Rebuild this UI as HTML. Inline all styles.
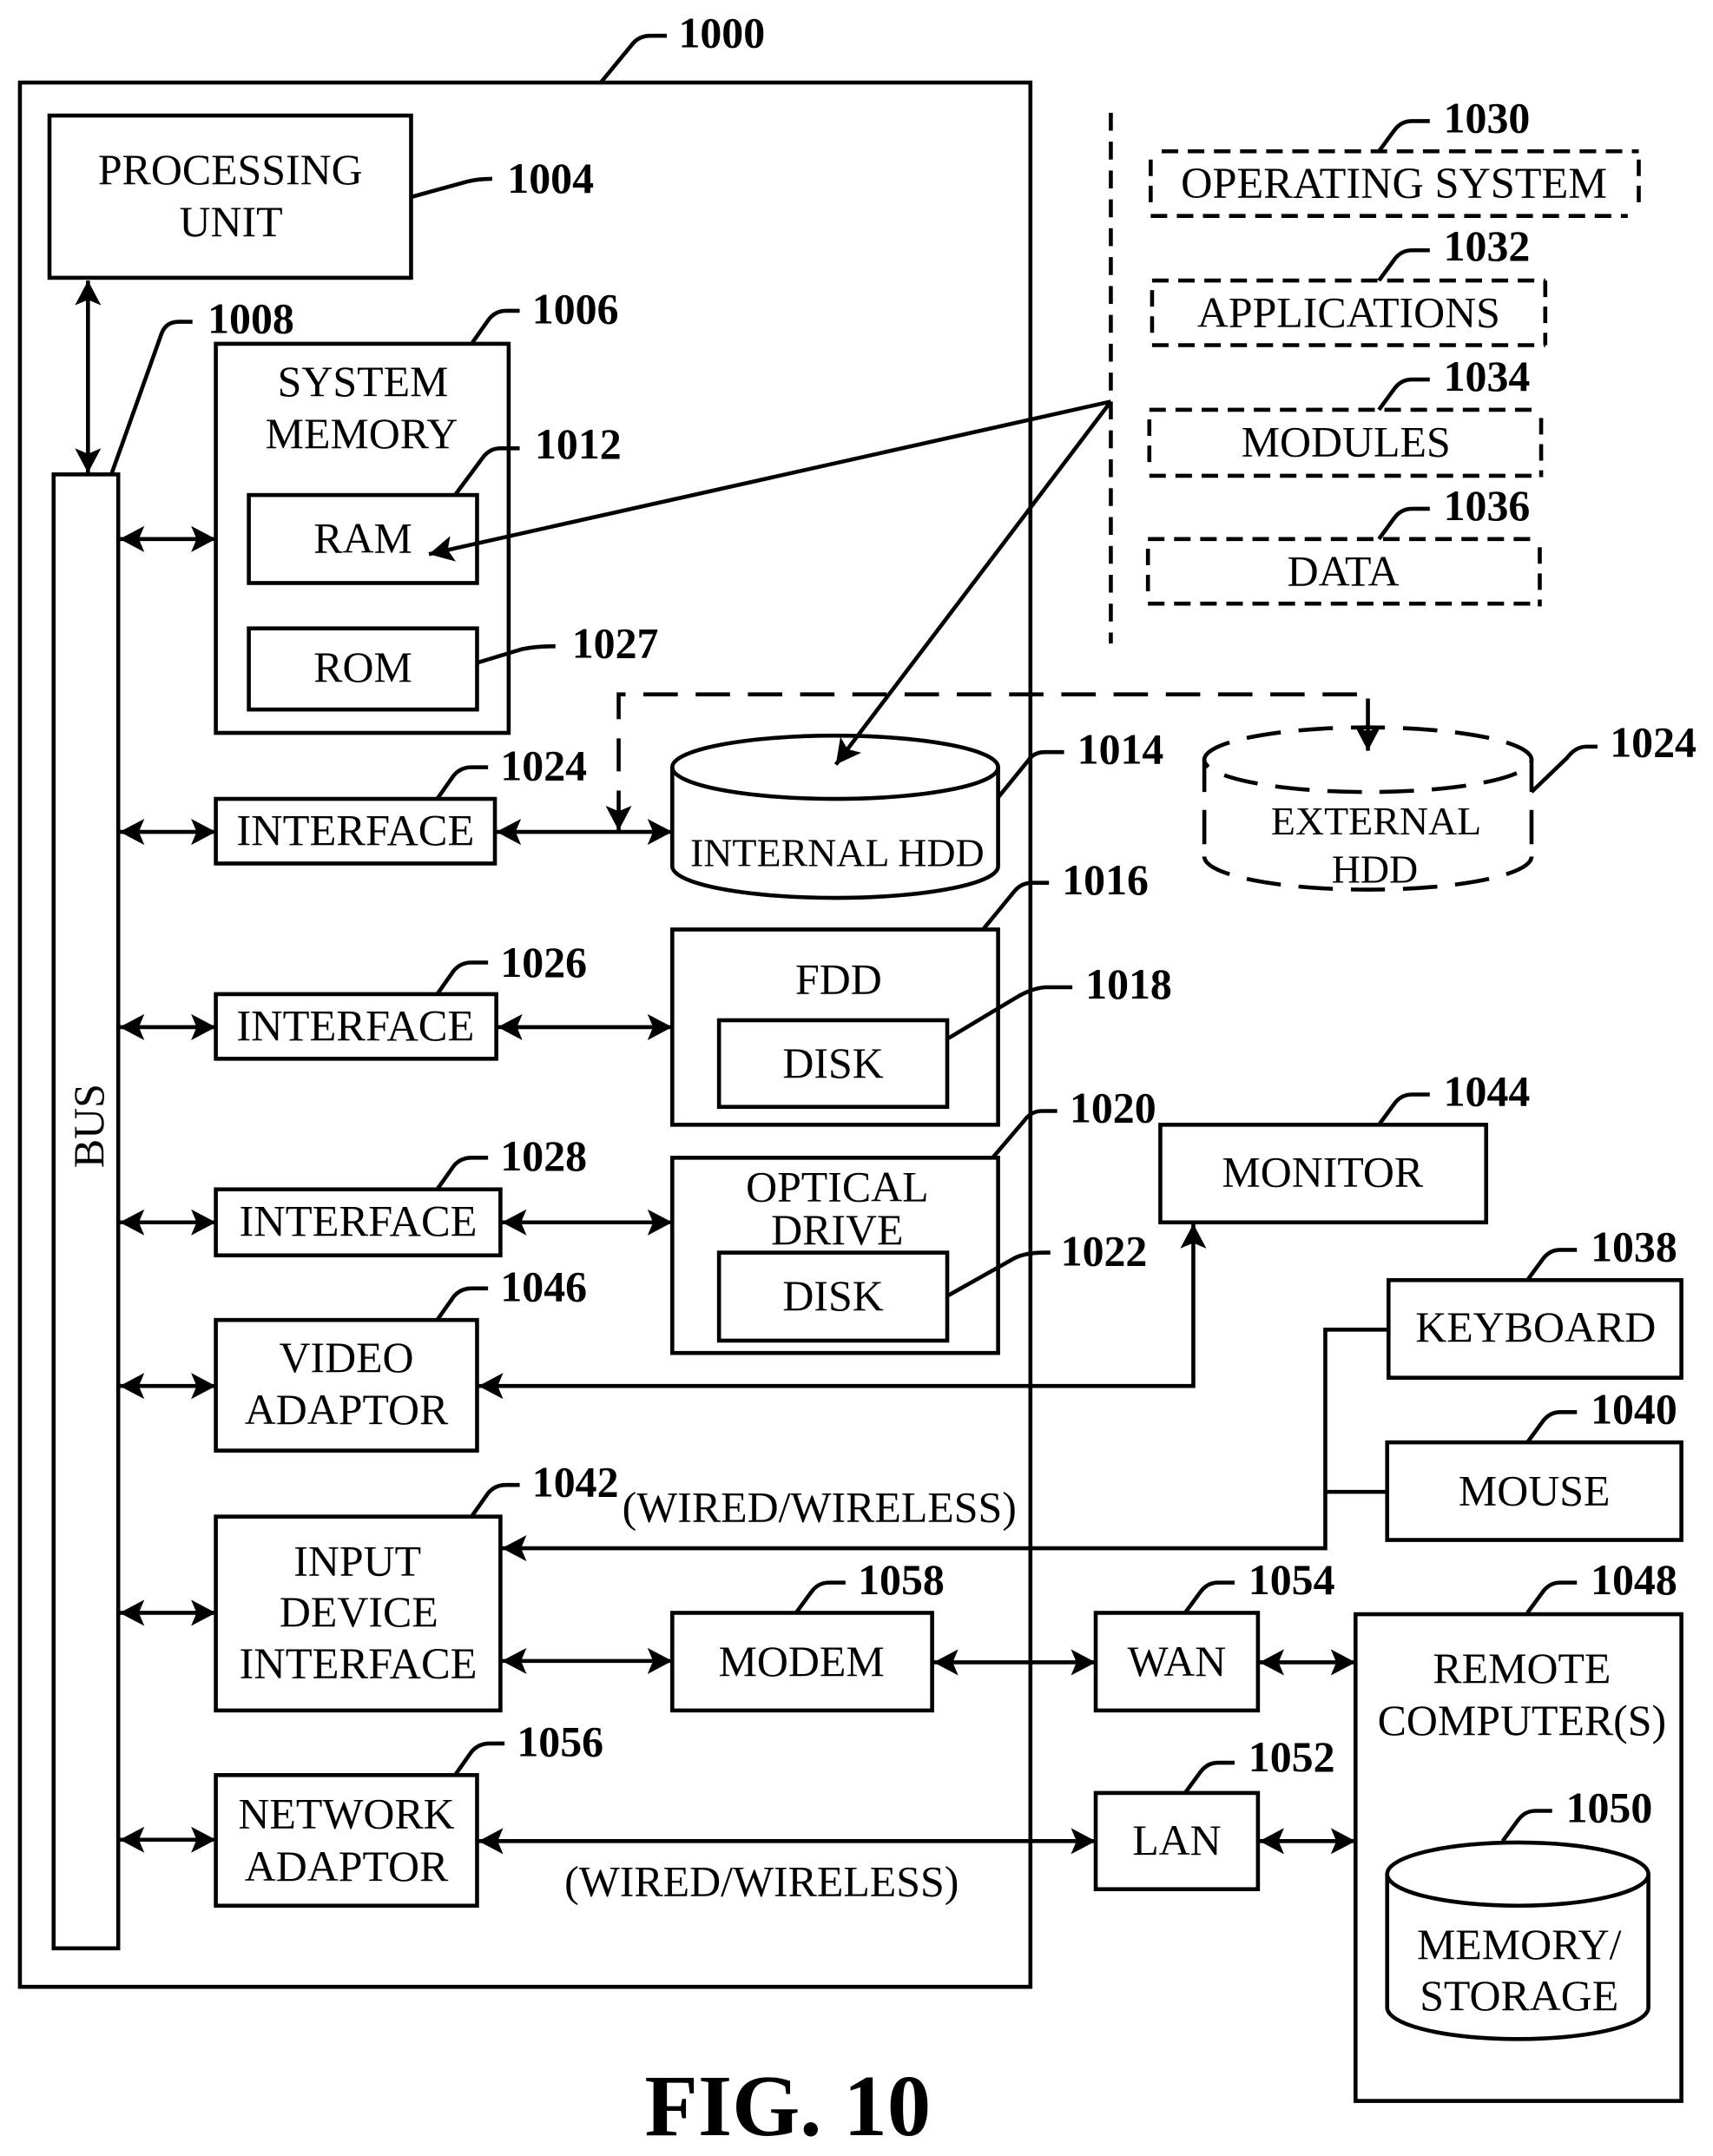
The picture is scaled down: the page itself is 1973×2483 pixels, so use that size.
<!DOCTYPE html>
<html><head><meta charset="utf-8"><style>
html,body{margin:0;padding:0;background:#fff}
svg{display:block}
text{font-family:"Liberation Serif",serif;fill:#000}
.t{font-size:31.5px;text-anchor:middle}
.i{font-size:31.9px}
.n{font-size:31.5px;font-weight:bold}
.b{fill:#fff;stroke:#000;stroke-width:2.9}
.l{fill:none;stroke:#000;stroke-width:2.9}
.d{fill:none;stroke:#000;stroke-width:2.9;stroke-dasharray:12 7}
.e{fill:none;stroke:#000;stroke-width:2.9;stroke-dasharray:25 13}
</style></head><body>
<svg width="1973" height="2483" viewBox="0 0 1246 1568" xmlns="http://www.w3.org/2000/svg">
<defs>
<marker id="a" markerUnits="userSpaceOnUse" markerWidth="20" markerHeight="20" refX="18" refY="9.500" orient="auto-start-reverse"><path d="M0 0L18 9.500L0 19L4 9.500Z" fill="#000"/></marker>
</defs>
<rect width="1246" height="1568" fill="#fff"/>
<rect class="b" x="14.500" y="60" width="735" height="1385"/>
<rect class="b" x="36" y="84" width="263" height="118"/>
<rect class="b" x="39" y="345" width="47" height="1072"/>
<rect class="b" x="157" y="250" width="213" height="283"/>
<rect class="b" x="181" y="360" width="166" height="64"/>
<rect class="b" x="181" y="457" width="166" height="59"/>
<rect class="b" x="157" y="581" width="203" height="47"/>
<rect class="b" x="157" y="723" width="204" height="47"/>
<rect class="b" x="157" y="865" width="207" height="48"/>
<rect class="b" x="157" y="960" width="190" height="95"/>
<rect class="b" x="157" y="1103" width="207" height="141"/>
<rect class="b" x="157" y="1291" width="190" height="95"/>
<path class="b" d="M489 558A118.500 23 0 0 1 726 558V630A118.500 23 0 0 1 489 630Z"/>
<path class="l" d="M489 558A118.500 23 0 0 0 726 558"/>
<rect class="b" x="489" y="676" width="237" height="142"/>
<rect class="b" x="523" y="742" width="166" height="63"/>
<rect class="b" x="489" y="842" width="237" height="142"/>
<rect class="b" x="523" y="911" width="166" height="64"/>
<rect class="b" x="489" y="1173" width="189" height="71"/>
<rect class="b" x="797" y="1173" width="118" height="71"/>
<rect class="b" x="797" y="1304" width="118" height="70"/>
<rect class="b" x="986" y="1174" width="237" height="354"/>
<path class="b" d="M1009 1363A95 23 0 0 1 1199 1363V1460A95 23 0 0 1 1009 1460Z"/>
<path class="l" d="M1009 1363A95 23 0 0 0 1199 1363"/>
<rect class="b" x="844" y="818" width="237" height="71"/>
<rect class="b" x="1010" y="931" width="213" height="71"/>
<rect class="b" x="1009" y="1049" width="214" height="71"/>

<path class="d" d="M845 110H1192M837 157H1184"/>
<path class="d" d="M837 116V150M1192 116V150"/>
<path class="d" d="M838 204H1124M838 251H1124"/>
<path class="d" d="M838 211V245M1124 204V251"/>
<path class="d" d="M836 298H1121M836 346H1121"/>
<path class="d" d="M836 305V339M1121 304V347"/>
<path class="d" d="M835 392H1120M835 439H1120"/>
<path class="d" d="M835 399V433M1120 398V441"/>
<path class="d" style="stroke-dasharray:13 8" d="M808 82V468"/>

<path class="e" style="stroke-dashoffset:12.500" d="M995 529A119 23.500 0 0 0 876 552.500M995 529A119 23.500 0 0 1 1114 552.500"/>
<path class="e" style="stroke-dashoffset:31.500" d="M997 576A119 23.500 0 0 1 876 552.500M997 576A119 23.500 0 0 0 1114 552.500"/>
<path class="l" d="M876 552V576M876 589V614M876 623V624M1114 552V576M1114 589V614M1114 623V624"/>
<path class="e" style="stroke-dashoffset:12.500" d="M995 647A119 24 0 0 1 876 623M995 647A119 24 0 0 0 1114 623"/>

<path class="e" d="M468 505H990"/>
<path class="l" d="M455 505H450V523M450 537V561"/>
<path class="l" d="M450 575V604" marker-end="url(#a)"/>
<path class="l" d="M995 508V546" marker-end="url(#a)"/>

<path class="l" d="M64 204V344" marker-start="url(#a)" marker-end="url(#a)"/>
<path class="l" d="M87 392H157" marker-start="url(#a)" marker-end="url(#a)"/>
<path class="l" d="M87 605H157" marker-start="url(#a)" marker-end="url(#a)"/>
<path class="l" d="M87 747H157" marker-start="url(#a)" marker-end="url(#a)"/>
<path class="l" d="M87 889H157" marker-start="url(#a)" marker-end="url(#a)"/>
<path class="l" d="M87 1008H157" marker-start="url(#a)" marker-end="url(#a)"/>
<path class="l" d="M87 1173H157" marker-start="url(#a)" marker-end="url(#a)"/>
<path class="l" d="M87 1338H157" marker-start="url(#a)" marker-end="url(#a)"/>
<path class="l" d="M361 605H489" marker-start="url(#a)" marker-end="url(#a)"/>
<path class="l" d="M362 747H489" marker-start="url(#a)" marker-end="url(#a)"/>
<path class="l" d="M365 889H489" marker-start="url(#a)" marker-end="url(#a)"/>
<path class="l" d="M348 1008H868V890" marker-start="url(#a)" marker-end="url(#a)"/>
<path class="l" d="M1010 967H964V1126H365" marker-end="url(#a)"/>
<path class="l" d="M964 1085H1009"/>
<path class="l" d="M365 1208H489" marker-start="url(#a)" marker-end="url(#a)"/>
<path class="l" d="M679 1209H797" marker-start="url(#a)" marker-end="url(#a)"/>
<path class="l" d="M916 1209H986" marker-start="url(#a)" marker-end="url(#a)"/>
<path class="l" d="M916 1339H986" marker-start="url(#a)" marker-end="url(#a)"/>
<path class="l" d="M348 1339H797" marker-start="url(#a)" marker-end="url(#a)"/>
<path class="l" d="M808 292L312 403" marker-end="url(#a)"/>
<path class="l" d="M808 292L608 556" marker-end="url(#a)"/>
<path class="l" d="M437 60L460 32Q465 26 473 26H485"/>
<path class="l" d="M300 143L340 132Q348 130 358 130"/>
<path class="l" d="M81 345L117 244Q120 234 130 234H140"/>
<path class="l" d="M343 250L355 233Q360 226 368 226H378"/>
<path class="l" d="M331 360L351 333Q356 326 364 326H378"/>
<path class="l" d="M347 482L380 472Q390 470 404 470"/>
<path class="l" d="M318 581L330 564Q335 558 343 558H355"/>
<path class="l" d="M318 723L330 706Q335 700 343 700H355"/>
<path class="l" d="M318 865L330 848Q335 842 343 842H355"/>
<path class="l" d="M318 960L330 943Q335 937 343 937H355"/>
<path class="l" d="M343 1103L355 1086Q360 1080 368 1080H378"/>
<path class="l" d="M331 1291L343 1274Q348 1268 356 1268H367"/>
<path class="l" d="M726 580L748 553Q752 547 760 547H774"/>
<path class="l" d="M715 676L738 648Q743 642 751 642H763"/>
<path class="l" d="M690 755L740 725Q750 719 760 718H780"/>
<path class="l" d="M722 842L745 815Q750 808 758 808H769"/>
<path class="l" d="M690 942L738 915Q746 911 760 911H764"/>
<path class="l" d="M1114 576L1140 551Q1146 543 1154 543H1162"/>
<path class="l" d="M1003 110L1014 95Q1019 88 1027 88H1040"/>
<path class="l" d="M1003 204L1014 189Q1019 182 1027 182H1040"/>
<path class="l" d="M1003 298L1014 283Q1019 276 1027 276H1040"/>
<path class="l" d="M1003 392L1014 377Q1019 370 1027 370H1040"/>
<path class="l" d="M1003 818L1014 803Q1019 796 1027 796H1040"/>
<path class="l" d="M1111 931L1122 916Q1127 909 1135 909H1147"/>
<path class="l" d="M1111 1049L1122 1034Q1127 1027 1135 1027H1147"/>
<path class="l" d="M1111 1173L1122 1158Q1127 1151 1135 1151H1147"/>
<path class="l" d="M1093 1339L1104 1324Q1109 1317 1117 1317H1129"/>
<path class="l" d="M862 1173L873 1158Q878 1151 886 1151H898"/>
<path class="l" d="M862 1304L873 1289Q878 1282 886 1282H898"/>
<path class="l" d="M579 1173L590 1158Q595 1151 603 1151H615"/>

<g transform="translate(0 -0.2)">
<text class="t" x="167.500" y="134">PROCESSING</text>
<text class="t" x="168" y="172">UNIT</text>
<text class="t" x="264" y="288">SYSTEM</text>
<text class="t" x="263" y="326">MEMORY</text>
<text class="t" x="264" y="402">RAM</text>
<text class="t" x="264" y="496">ROM</text>
<text class="t" transform="translate(75 819) rotate(-90)">BUS</text>
<text class="t i" x="258.500" y="615">INTERFACE</text>
<text class="t i" x="258.500" y="757">INTERFACE</text>
<text class="t i" x="260.500" y="899">INTERFACE</text>
<text class="t" x="252" y="998">VIDEO</text>
<text class="t" x="252" y="1036">ADAPTOR</text>
<text class="t" x="260" y="1146">INPUT</text>
<text class="t" x="261" y="1183">DEVICE</text>
<text class="t i" x="260.500" y="1221">INTERFACE</text>
<text class="t" x="252" y="1330">NETWORK</text>
<text class="t" x="252" y="1368">ADAPTOR</text>
<text class="t" x="609" y="630" style="font-size:29px">INTERNAL HDD</text>
<text class="t" x="610" y="723">FDD</text>
<text class="t" x="606" y="784">DISK</text>
<text class="t" x="609" y="874">OPTICAL</text>
<text class="t" x="609" y="905">DRIVE</text>
<text class="t" x="606" y="953">DISK</text>
<text class="t" x="583" y="1219">MODEM</text>
<text class="t" x="856" y="1219">WAN</text>
<text class="t" x="856" y="1349">LAN</text>
<text class="t" x="1107" y="1224">REMOTE</text>
<text class="t" x="1107" y="1262">COMPUTER(S)</text>
<text class="t" x="1105" y="1425">MEMORY/</text>
<text class="t" x="1105" y="1462">STORAGE</text>
<text class="t" x="962" y="863">MONITOR</text>
<text class="t" x="1117" y="976">KEYBOARD</text>
<text class="t" x="1116" y="1095">MOUSE</text>
<text class="t" x="1014" y="144" style="font-size:31.8px">OPERATING SYSTEM</text>
<text class="t" x="981" y="238">APPLICATIONS</text>
<text class="t" x="979" y="332">MODULES</text>
<text class="t" x="977" y="426">DATA</text>
<text class="t" x="1001" y="607" style="font-size:29px">EXTERNAL</text>
<text class="t" x="1000" y="642" style="font-size:29px">HDD</text>
<text class="t" x="596" y="1107">(WIRED/WIRELESS)</text>
<text class="t" x="554" y="1379">(WIRED/WIRELESS)</text>
</g>
<g transform="translate(0 -0.7)">
<text class="n" x="493.500" y="35">1000</text>
<text class="n" x="369" y="141">1004</text>
<text class="n" x="151" y="243">1008</text>
<text class="n" x="387" y="236">1006</text>
<text class="n" x="389" y="334">1012</text>
<text class="n" x="416" y="479">1027</text>
<text class="n" x="364" y="568">1024</text>
<text class="n" x="364" y="711">1026</text>
<text class="n" x="364" y="852">1028</text>
<text class="n" x="364" y="947">1046</text>
<text class="n" x="387" y="1089">1042</text>
<text class="n" x="376" y="1278">1056</text>
<text class="n" x="783.500" y="556">1014</text>
<text class="n" x="772.500" y="651">1016</text>
<text class="n" x="789.500" y="727">1018</text>
<text class="n" x="778" y="817">1020</text>
<text class="n" x="771.500" y="921">1022</text>
<text class="n" x="1171" y="551">1024</text>
<text class="n" x="1050" y="97">1030</text>
<text class="n" x="1050" y="190">1032</text>
<text class="n" x="1050" y="285">1034</text>
<text class="n" x="1050" y="379">1036</text>
<text class="n" x="1050" y="805">1044</text>
<text class="n" x="1157" y="918">1038</text>
<text class="n" x="1157" y="1036">1040</text>
<text class="n" x="1157" y="1160">1048</text>
<text class="n" x="1139" y="1326">1050</text>
<text class="n" x="908" y="1160">1054</text>
<text class="n" x="908" y="1289">1052</text>
<text class="n" x="624" y="1160">1058</text>
</g>
<text x="573" y="1553" text-anchor="middle" font-size="63.500" font-weight="bold">FIG. 10</text>
</svg>
</body></html>
